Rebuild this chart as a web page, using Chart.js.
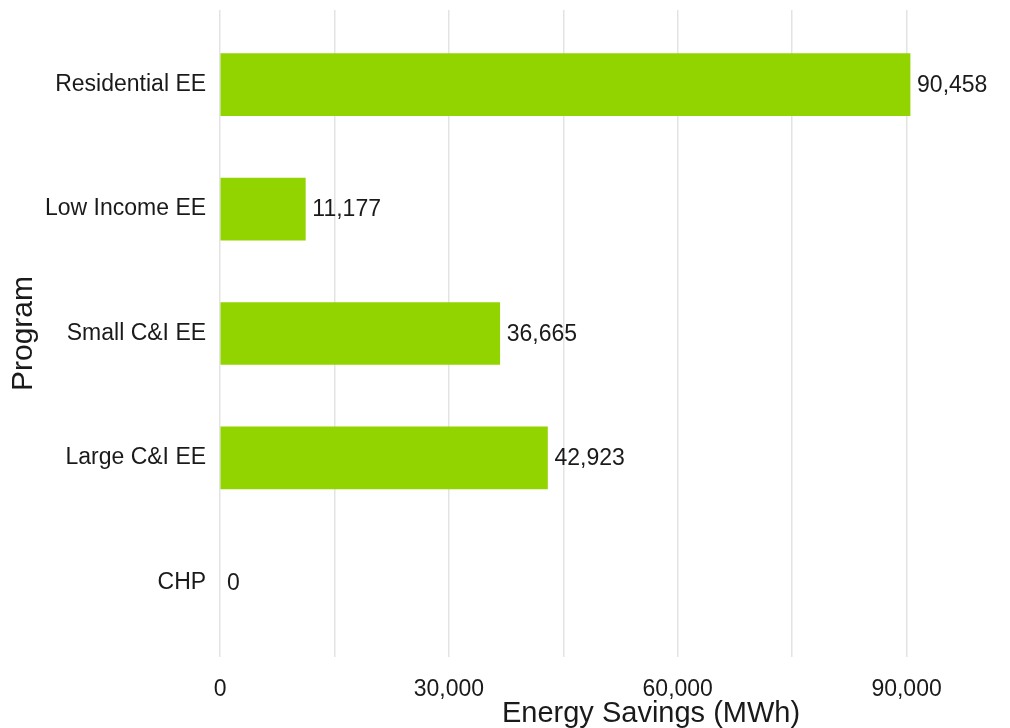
<!DOCTYPE html>
<html lang="en">
<head>
  <meta charset="UTF-8">
  <title>Energy Savings by Program</title>
  <script src="https://cdn.jsdelivr.net/npm/chart.js@4.4.0/dist/chart.umd.min.js"></script>
  <style>
    html, body { margin: 0; background: #ffffff; overflow: hidden; }
    /* the plot panel runs past the right edge of the picture, so the canvas is wider than the window */
    #wrap { width: 1010px; height: 728px; overflow: hidden; }
  </style>
</head>
<body>
  <div id="wrap">
    <canvas id="savings-chart" width="1082" height="728"></canvas>
  </div>

  <script>
    // program names, top to bottom
    var programs = ['Residential EE', 'Low Income EE', 'Small C&I EE', 'Large C&I EE', 'CHP'];
    // energy savings in MWh
    var savings = [90458, 11177, 36665, 42923, 0];
    // x axis labelled ticks
    var xTickLabels = [0, 30000, 60000, 90000];

    var fontFamily = '"Liberation Sans", Arial, sans-serif';
    var textColor = '#1a1a1a';

    function fmt(n) {
      return n.toLocaleString('en-US');
    }

    // write the value just right of every bar
    var valueLabels = {
      id: 'valueLabels',
      afterDatasetsDraw: function(chart) {
        var ctx = chart.ctx;
        var meta = chart.getDatasetMeta(0);
        ctx.save();
        ctx.font = '23px ' + fontFamily;
        ctx.fillStyle = textColor;
        ctx.textAlign = 'left';
        ctx.textBaseline = 'middle';
        meta.data.forEach(function(bar, i) {
          ctx.fillText(fmt(savings[i]), bar.x + 7, bar.y + 1);
        });
        ctx.restore();
      }
    };

    var ctx = document.getElementById('savings-chart').getContext('2d');
    var chart = new Chart(ctx, {
      type: 'bar',
      data: {
        datasets: [{
          label: 'Energy Savings (MWh)',
          data: savings.map(function(v, i) { return { x: v, y: i + 1 }; }),
          backgroundColor: function(c) {
            return c.raw && c.raw.x > 0 ? '#92d400' : 'rgba(0,0,0,0)';
          },
          borderWidth: 0,
          barThickness: 62
        }]
      },
      options: {
        indexAxis: 'y',
        responsive: false,
        animation: false,
        layout: { padding: { top: 10, left: 9, right: 0, bottom: 0 } },
        plugins: {
          legend: { display: false },
          tooltip: { enabled: false }
        },
        scales: {
          x: {
            type: 'linear',
            min: 0,
            max: 113000,
            border: { display: false },
            grid: { color: '#e3e3e3', lineWidth: 1.5, drawTicks: false },
            afterBuildTicks: function(scale) {
              var t = [];
              for (var v = 0; v <= 105000; v += 15000) t.push({ value: v });
              scale.ticks = t;
            },
            afterFit: function(scale) {
              scale.height = 71;
            },
            ticks: {
              autoSkip: false,
              maxRotation: 0,
              padding: 21,
              color: textColor,
              font: { family: fontFamily, size: 23, lineHeight: 1 },
              callback: function(v) {
                return xTickLabels.indexOf(v) >= 0 ? fmt(v) : '';
              }
            },
            title: {
              display: true,
              text: 'Energy Savings (MWh)',
              color: textColor,
              font: { family: fontFamily, size: 29, lineHeight: 1 },
              padding: { top: 0, bottom: 0 }
            }
          },
          y: {
            type: 'linear',
            reverse: true,
            offset: false,
            min: 0.4,
            max: 5.6,
            border: { display: false },
            grid: { display: false, drawTicks: false },
            afterBuildTicks: function(scale) {
              scale.ticks = programs.map(function(p, i) { return { value: i + 1 }; });
            },
            afterFit: function(scale) {
              scale.paddingTop = 0;
              scale.paddingBottom = 0;
            },
            ticks: {
              autoSkip: false,
              padding: 14,
              color: textColor,
              font: { family: fontFamily, size: 23 },
              callback: function(v) { return programs[v - 1]; }
            },
            title: {
              display: true,
              text: 'Program',
              color: textColor,
              font: { family: fontFamily, size: 30, lineHeight: 1 },
              padding: { top: 0, bottom: -8 }
            }
          }
        }
      },
      plugins: [valueLabels]
    });
  </script>
</body>
</html>
